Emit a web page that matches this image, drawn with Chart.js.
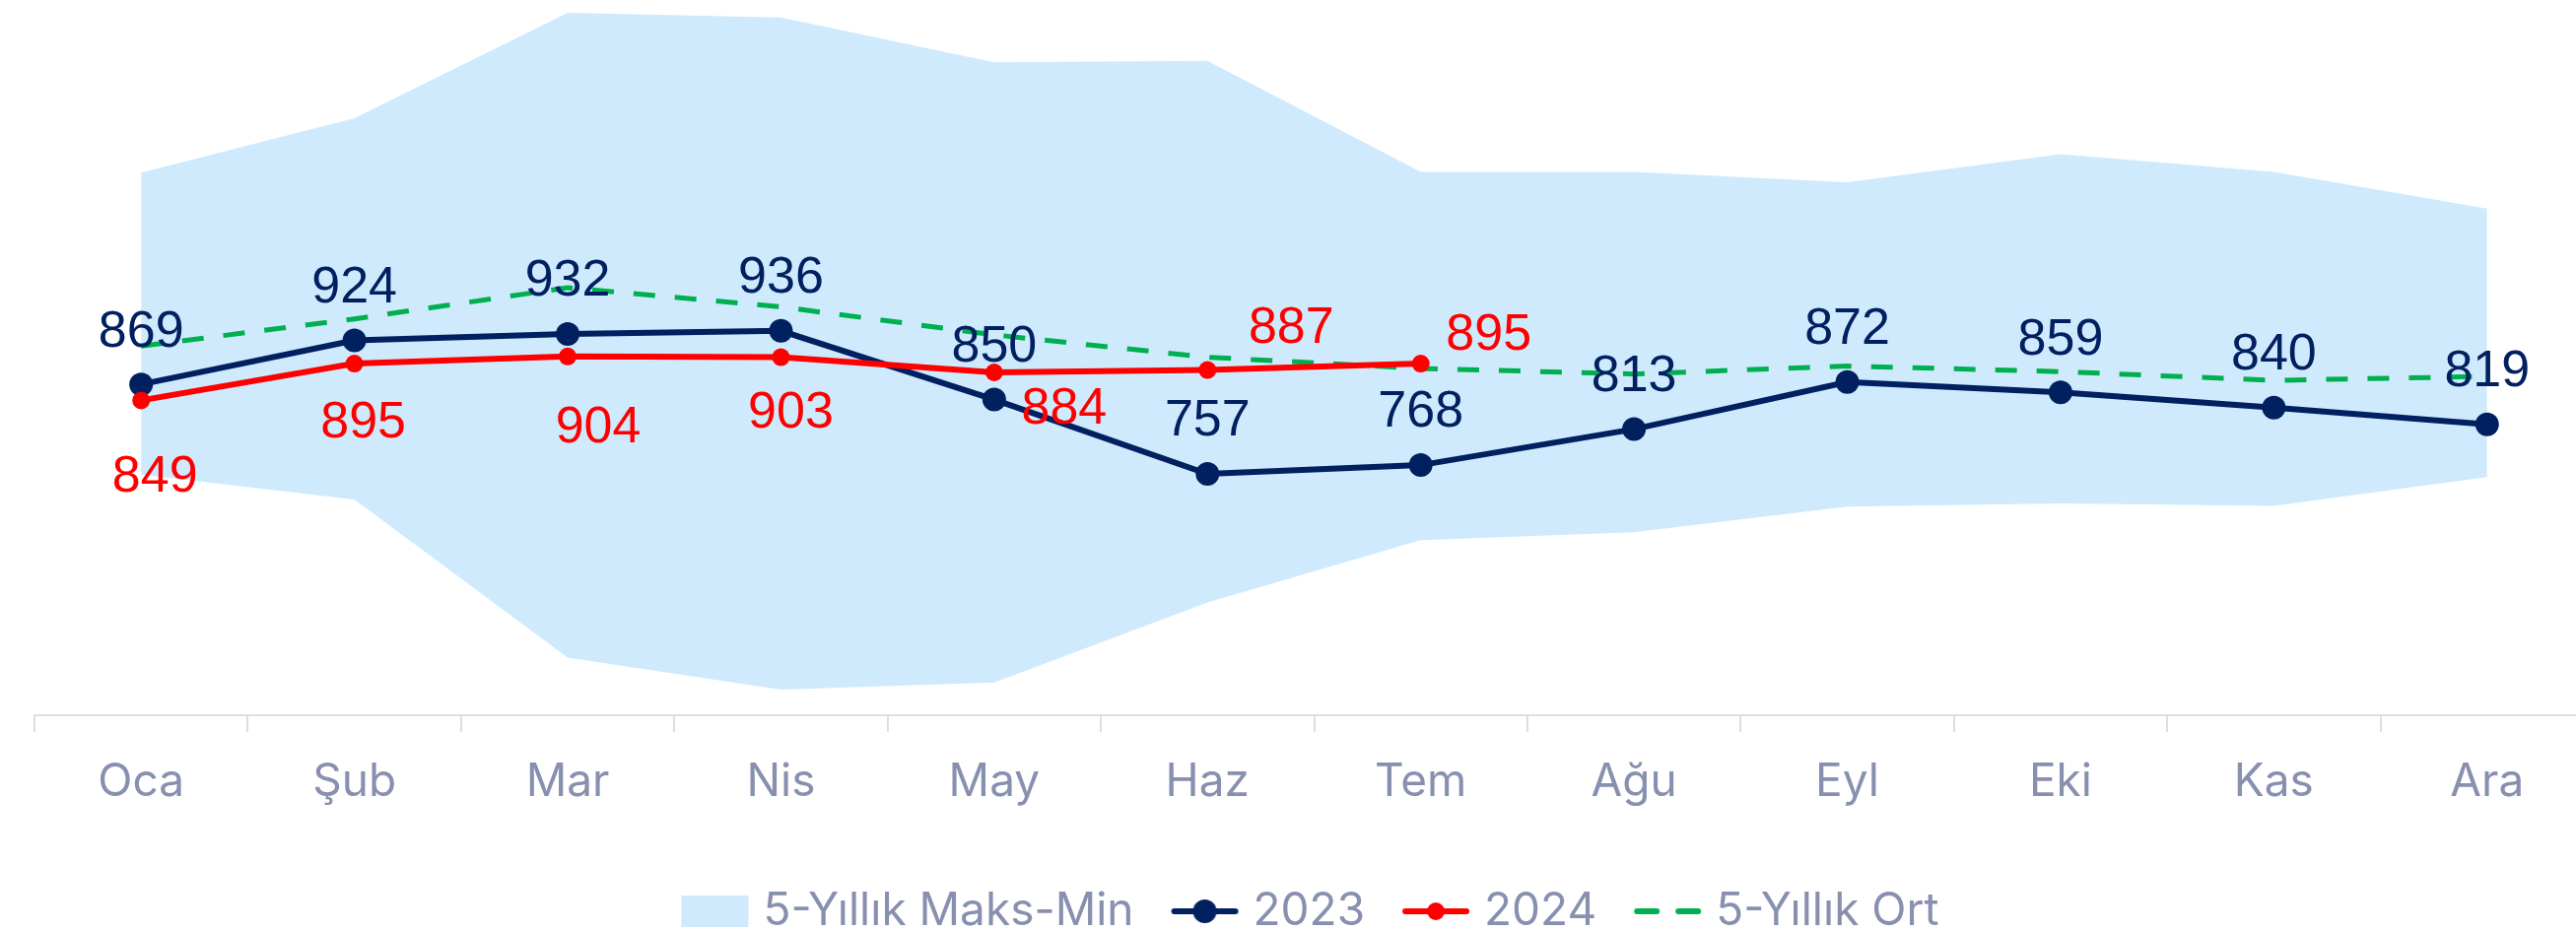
<!DOCTYPE html>
<html>
<head>
<meta charset="utf-8">
<script src="https://cdn.jsdelivr.net/npm/chart.js@4"></script>
<style>
  html, body { margin: 0; padding: 0; background: #fff; overflow: hidden; }
  #wrap { position: relative; width: 2632px; height: 970px; }
</style>
</head>
<body>
<div id="wrap"><canvas id="chart"></canvas></div>
<script>
// Months (Turkish)
const months = ['Oca', 'Şub', 'Mar', 'Nis', 'May', 'Haz', 'Tem', 'Ağu', 'Eyl', 'Eki', 'Kas', 'Ara'];

// 5-year band and average
const bandMax = [1134, 1202, 1334, 1328, 1272, 1274, 1135, 1135, 1122, 1157, 1135, 1089];
const bandMin = [756, 725, 527, 487, 496, 596, 674, 684, 716, 720, 717, 753];
const avg5y = [917, 951, 990, 966, 931, 903, 889, 882, 892, 885, 874, 879];

// Yearly series
const values2023 = [869, 924, 932, 936, 850, 757, 768, 813, 872, 859, 840, 819];
const values2024 = [849, 895, 904, 903, 884, 887, 895, null, null, null, null, null];

// label offsets (px) relative to the point
const offsets2023 = months.map(() => [0, -53]);
const offsets2024 = [[14, 78], [9, 61], [31, 73], [10, 57], [71, 38], [85, -42], [69, -28]];

const colors = {
    band: '#cfeafd',
    navy: '#002060',
    red: '#ff0000',
    green: '#00b050',
    text: '#8790ae',
    axis: '#dedede'
};

const tickFont = { family: 'Inter, "Noto Sans", sans-serif', size: 46 };
const labelFont = '52px "Liberation Sans", Arial, sans-serif';

// small canvases used as legend symbols
function legendSymbol(kind) {
    const c = document.createElement('canvas');
    c.width = 70; c.height = 32;
    const g = c.getContext('2d');
    if (kind === 'band') {
        g.fillStyle = colors.band;
        g.fillRect(1, 0, 68, 32);
    } else if (kind === 'dash') {
        g.strokeStyle = colors.green;
        g.lineWidth = 6;
        g.lineCap = 'round';
        g.beginPath();
        g.moveTo(4, 16); g.lineTo(24, 16);
        g.moveTo(46, 16); g.lineTo(66, 16);
        g.stroke();
    } else {
        const col = kind === '2023' ? colors.navy : colors.red;
        g.strokeStyle = col;
        g.lineWidth = 6;
        g.lineCap = 'round';
        g.beginPath();
        g.moveTo(4, 16); g.lineTo(66, 16);
        g.stroke();
        g.fillStyle = col;
        g.beginPath();
        g.arc(35, 16, kind === '2023' ? 12 : 9, 0, Math.PI * 2);
        g.fill();
    }
    return c;
}

const valueLabels = {
    id: 'valueLabels',
    afterDatasetsDraw(chart) {
        const ctx = chart.ctx;
        ctx.save();
        ctx.font = labelFont;
        ctx.textAlign = 'center';
        ctx.textBaseline = 'middle';
        chart.data.datasets.forEach((ds, di) => {
            if (!ds.labelOffsets) return;
            const meta = chart.getDatasetMeta(di);
            meta.data.forEach((pt, i) => {
                const v = ds.data[i];
                if (v === null || v === undefined) return;
                const off = ds.labelOffsets[i] || [0, -53];
                ctx.fillStyle = ds.borderColor;
                ctx.fillText(String(v), pt.x + off[0], pt.y + off[1]);
            });
        });
        ctx.restore();
    }
};

new Chart(document.getElementById('chart'), {
    type: 'line',
    data: {
        labels: months,
        datasets: [
            {
                label: '5-Yıllık Maks-Min',
                data: bandMax,
                backgroundColor: colors.band,
                borderWidth: 0,
                pointRadius: 0,
                fill: 1,
                order: 4
            },
            {
                label: 'min',
                data: bandMin,
                backgroundColor: colors.band,
                borderWidth: 0,
                pointRadius: 0,
                fill: false,
                order: 5
            },
            {
                label: '5-Yıllık Ort',
                data: avg5y,
                borderColor: colors.green,
                borderWidth: 5,
                borderDash: [22, 20],
                pointRadius: 0,
                fill: false,
                order: 3
            },
            {
                label: '2023',
                data: values2023,
                borderColor: colors.navy,
                backgroundColor: colors.navy,
                borderWidth: 6,
                pointRadius: 12,
                pointBorderWidth: 0,
                fill: false,
                labelOffsets: offsets2023,
                order: 2
            },
            {
                label: '2024',
                data: values2024,
                borderColor: colors.red,
                backgroundColor: colors.red,
                borderWidth: 6,
                pointRadius: 9,
                pointBorderWidth: 0,
                fill: false,
                labelOffsets: offsets2024,
                order: 1
            }
        ]
    },
    options: {
        responsive: true,
        maintainAspectRatio: false,
        animation: false,
        layout: { autoPadding: false, padding: { left: 35, right: 0, top: 0, bottom: 12 } },
        plugins: {
            tooltip: { enabled: false },
            legend: {
                position: 'bottom',
                labels: {
                    color: colors.text,
                    font: tickFont,
                    usePointStyle: true,
                    pointStyleWidth: 52,
                    padding: 46,
                    generateLabels: () => [
                        { text: '5-Yıllık Maks-Min', pointStyle: legendSymbol('band'), fontColor: colors.text, lineWidth: 0, datasetIndex: 0 },
                        { text: '2023', pointStyle: legendSymbol('2023'), fontColor: colors.text, lineWidth: 0, datasetIndex: 3 },
                        { text: '2024', pointStyle: legendSymbol('2024'), fontColor: colors.text, lineWidth: 0, datasetIndex: 4 },
                        { text: '5-Yıllık Ort', pointStyle: legendSymbol('dash'), fontColor: colors.text, lineWidth: 0, datasetIndex: 2 }
                    ]
                }
            }
        },
        scales: {
            x: {
                offset: true,
                grid: {
                    offset: true,
                    drawOnChartArea: false,
                    drawTicks: true,
                    tickLength: 17,
                    color: colors.axis,
                    lineWidth: 2
                },
                border: { display: true, color: colors.axis, width: 2 },
                ticks: { color: colors.text, font: tickFont, padding: 24, maxRotation: 0 },
                afterFit: axis => { axis.height = 130; }
            },
            y: {
                display: false,
                min: 455,
                max: 1350
            }
        }
    },
    plugins: [valueLabels]
});
</script>
</body>
</html>
